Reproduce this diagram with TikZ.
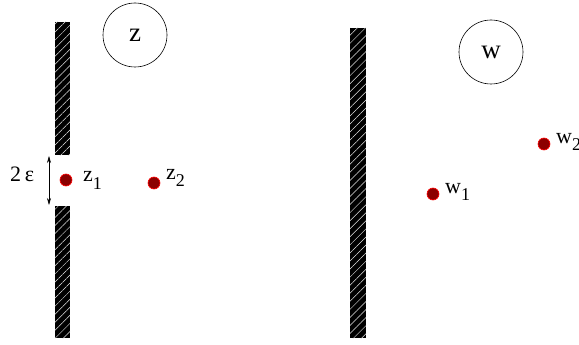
\documentclass[tikz,border=0pt]{standalone}
\usepackage{fontspec}
\setmainfont{Liberation Serif}
\usetikzlibrary{patterns.meta,arrows.meta}
\tikzset{
  wall/.style={fill=black, postaction={pattern={Lines[angle=45,distance=5.7pt,line width=0.5pt]}, pattern color=white!80!gray}},
  pt/.style={circle, fill=red!55!black, draw=red, line width=0.6pt, inner sep=0pt, minimum size=12pt},
  lab/.style={anchor=base west, inner sep=0pt, font=\fontsize{22}{22}\selectfont},
  plane/.style={circle, draw, line width=0.6pt, minimum size=64pt, inner sep=0pt, font=\fontsize{27}{27}\selectfont}
}
\newcommand{\subn}[1]{\raisebox{-7pt}{\fontsize{18}{18}\selectfont #1}}
\begin{document}
\begin{tikzpicture}[x=1pt,y=-1pt]
\useasboundingbox (0,0) rectangle (579,345);
% walls
\path[wall] (55,22) rectangle (70,155);
\path[wall] (55,206) rectangle (70,338);
\path[wall] (350,28) rectangle (366,338);
% plane labels
\node[plane] (zc) at (135,35) {z};
\node[plane] (wc) at (491,52) {w};
% gap arrow
\coordinate (gt) at (49,156);
\coordinate (gb) at (49,205);
\draw[{Stealth[length=7pt,width=4pt]}-{Stealth[length=7pt,width=4pt]}, line width=0.6pt] (gt) -- (gb);
\node[lab] (eps) at (10,181) {2\,ε};
% points
\node[pt] (z1) at (66,180) {};
\node[pt] (z2) at (154,183) {};
\node[pt] (w1) at (433,194) {};
\node[pt] (w2) at (544,144) {};
\node[lab] (z1l) at (83,182) {z\subn{1}};
\node[lab] (z2l) at (166,179) {z\subn{2}};
\node[lab] (w1l) at (445,193) {w\subn{1}};
\node[lab] (w2l) at (556,143) {w\subn{2}};
\end{tikzpicture}
\end{document}
